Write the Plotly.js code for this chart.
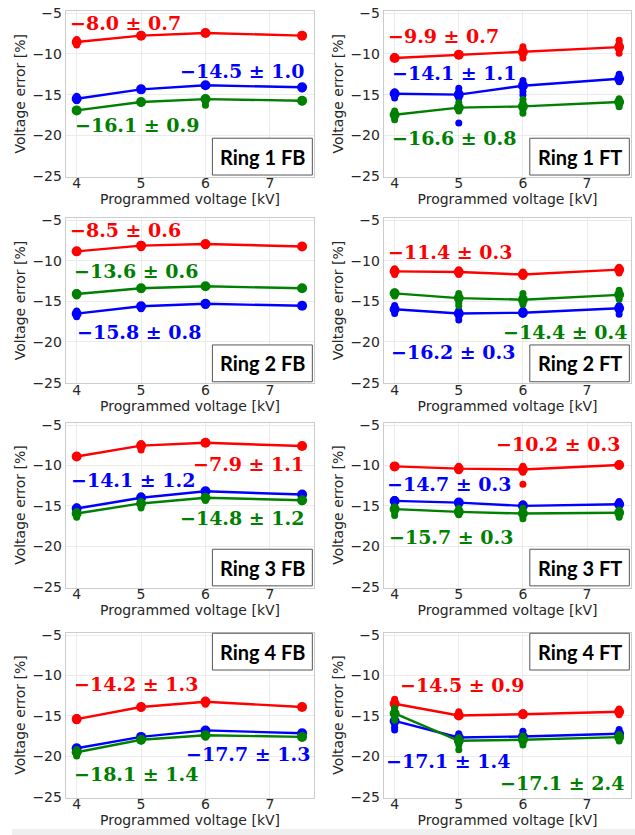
<!DOCTYPE html>
<html>
<head>
<meta charset="utf-8">
<script src="https://cdn.plot.ly/plotly-3.0.1.min.js"></script>
<style>html,body{margin:0;padding:0;background:#fff}#chart{width:635px;height:835px}</style>
</head>
<body>
<div id="chart"></div>
<script>
// ---------- DATA ----------
const X_LEVELS = [4, 5, 6, 7.5];
const PANEL_NAMES = ["Ring 1 FB", "Ring 1 FT", "Ring 2 FB", "Ring 2 FT", "Ring 3 FB", "Ring 3 FT", "Ring 4 FB", "Ring 4 FT"];
const SERIES_COLORS = ["#ff0000", "#0000ff", "#008000"]; // red, blue, green

// Ring 1 FB
const r1fb_red_mean = [-8.52, -7.74, -7.41, -7.74];
const r1fb_red_pts = [[-8.2, -8.5, -8.9], [-7.7, -7.85], [-7.4, -7.5], [-7.7, -7.8]];
const r1fb_blue_mean = [-15.5, -14.35, -13.85, -14.1];
const r1fb_blue_pts = [[-15.2, -15.5, -15.75], [-14.2, -14.4], [-13.8, -13.9], [-14.0, -14.3]];
const r1fb_green_mean = [-16.94, -15.9, -15.55, -15.75];
const r1fb_green_pts = [[-16.9, -17.05], [-15.85, -16.05], [-15.5, -15.9, -16.3], [-15.7, -15.9]];
const r1fb_labels = ["−8.0 ± 0.7", "−14.5 ± 1.0", "−16.1 ± 0.9"];

// Ring 1 FT
const r1ft_red_mean = [-10.49, -10.1, -9.75, -9.15];
const r1ft_red_pts = [[-10.35, -10.55], [-10.0, -10.2], [-9.1, -9.4, -9.75, -10.1, -10.5], [-8.3, -8.7, -9.15, -9.5, -9.9]];
const r1ft_blue_mean = [-14.9, -15.0, -13.9, -13.05];
const r1ft_blue_pts = [[-14.65, -14.95, -15.4], [-14.2, -14.6, -15.0, -15.45, -18.5], [-13.25, -13.6, -14.0, -14.6, -15.05], [-12.5, -12.9, -13.3, -13.4]];
const r1ft_green_mean = [-17.47, -16.6, -16.45, -15.9];
const r1ft_green_pts = [[-17.0, -17.4, -17.8, -18.1], [-16.0, -16.4, -16.8, -17.0], [-15.6, -16.0, -16.45, -16.9, -17.3], [-15.5, -15.9, -16.3, -16.5]];
const r1ft_labels = ["−9.9 ± 0.7", "−14.1 ± 1.1", "−16.6 ± 0.8"];

// Ring 2 FB
const r2fb_red_mean = [-8.85, -8.15, -7.95, -8.25];
const r2fb_red_pts = [[-8.75, -8.95], [-8.0, -8.3, -8.4], [-7.9, -8.15], [-8.2, -8.35]];
const r2fb_blue_mean = [-16.52, -15.6, -15.3, -15.55];
const r2fb_blue_pts = [[-16.2, -16.5, -16.9], [-15.5, -15.7, -15.9], [-15.3, -15.5], [-15.5, -15.6]];
const r2fb_green_mean = [-14.1, -13.4, -13.15, -13.4];
const r2fb_green_pts = [[-13.95, -14.15, -14.35], [-13.3, -13.55], [-13.1, -13.2], [-13.35, -13.45]];
const r2fb_labels = ["−8.5 ± 0.6", "−15.8 ± 0.8", "−13.6 ± 0.6"];

// Ring 2 FT
const r2ft_red_mean = [-11.31, -11.4, -11.7, -11.1];
const r2ft_red_pts = [[-10.98, -11.3, -11.7], [-11.1, -11.4, -11.7], [-11.4, -11.7, -11.95], [-10.8, -11.1, -11.5]];
const r2ft_blue_mean = [-15.98, -16.5, -16.4, -15.85];
const r2ft_blue_pts = [[-15.5, -15.8, -16.1, -16.5], [-16.1, -16.5, -16.9, -17.3], [-16.1, -16.4, -16.6], [-15.5, -15.8, -16.2, -16.6]];
const r2ft_green_mean = [-14.02, -14.6, -14.8, -14.2];
const r2ft_green_pts = [[-13.85, -14.1, -14.35], [-14.05, -14.4, -14.8, -15.2, -15.55], [-14.05, -14.4, -14.8, -15.1, -15.35], [-13.65, -14.0, -14.3, -14.75]];
const r2ft_labels = ["−11.4 ± 0.3", "−16.2 ± 0.3", "−14.4 ± 0.4"];

// Ring 3 FB
const r3fb_red_mean = [-8.89, -7.55, -7.2, -7.6];
const r3fb_red_pts = [[-8.8, -8.95], [-7.3, -7.6, -8.1], [-7.15, -7.3], [-7.6, -7.7]];
const r3fb_blue_mean = [-15.33, -14.0, -13.2, -13.6];
const r3fb_blue_pts = [[-15.1, -15.35], [-13.75, -14.0, -14.35], [-13.1, -13.3], [-13.5, -13.65]];
const r3fb_green_mean = [-15.94, -14.7, -14.0, -14.3];
const r3fb_green_pts = [[-15.7, -16.0, -16.4], [-14.45, -14.7, -15.25], [-13.9, -14.1, -14.35], [-14.25, -14.5]];
const r3fb_labels = ["−7.9 ± 1.1", "−14.1 ± 1.2", "−14.8 ± 1.2"];

// Ring 3 FT
const r3ft_red_mean = [-10.12, -10.4, -10.5, -9.95];
const r3ft_red_pts = [[-10.0, -10.25], [-10.1, -10.4, -10.65], [-10.1, -10.5, -10.85, -12.34], [-9.8, -10.1]];
const r3ft_blue_mean = [-14.39, -14.6, -15.0, -14.8];
const r3ft_blue_pts = [[-14.2, -14.45, -14.75], [-14.45, -14.65, -14.9], [-14.75, -15.0, -15.25], [-14.45, -14.75, -15.1]];
const r3ft_green_mean = [-15.4, -15.74, -15.95, -15.85];
const r3ft_green_pts = [[-15.1, -15.45, -15.8, -16.2], [-15.3, -15.6, -16.0, -16.1], [-15.3, -15.7, -16.1, -16.6], [-15.5, -15.85, -16.2, -16.4]];
const r3ft_labels = ["−10.2 ± 0.3", "−14.7 ± 0.3", "−15.7 ± 0.3"];

// Ring 4 FB
const r4fb_red_mean = [-15.4, -13.9, -13.25, -13.9];
const r4fb_red_pts = [[-15.2, -15.45, -15.6], [-13.85, -14.05], [-13.05, -13.3, -13.55], [-13.85, -14.0]];
const r4fb_blue_mean = [-19.0, -17.6, -16.8, -17.15];
const r4fb_blue_pts = [[-18.9, -19.1], [-17.5, -17.7], [-16.75, -16.9], [-17.1, -17.2]];
const r4fb_green_mean = [-19.5, -17.95, -17.4, -17.6];
const r4fb_green_pts = [[-19.15, -19.5, -19.95], [-17.9, -18.1], [-17.3, -17.5, -17.65], [-17.55, -17.7]];
const r4fb_labels = ["−14.2 ± 1.3", "−17.7 ± 1.3", "−18.1 ± 1.4"];

// Ring 4 FT
const r4ft_red_mean = [-13.5, -14.95, -14.8, -14.5];
const r4ft_red_pts = [[-12.95, -13.3, -13.6, -13.9], [-14.5, -14.75, -15.0], [-14.6, -14.8, -14.95], [-14.15, -14.4, -14.6, -14.85]];
const r4ft_blue_mean = [-15.63, -17.67, -17.55, -17.22];
const r4ft_blue_pts = [[-15.25, -15.6, -16.0, -16.4, -16.75], [-17.2, -17.6, -18.0, -18.4], [-16.9, -17.3, -17.6, -17.9], [-16.7, -17.0, -17.4]];
const r4ft_green_mean = [-14.7, -18.08, -17.96, -17.63];
const r4ft_green_pts = [[-14.05, -14.4, -14.8, -15.2, -15.55], [-17.7, -18.1, -18.6, -19.2], [-17.5, -17.9, -18.3, -18.6], [-17.3, -17.6, -17.9, -18.1]];
const r4ft_labels = ["−14.5 ± 0.9", "−17.1 ± 1.4", "−17.1 ± 2.4"];

const Y_TICKS = [-25, -20, -15, -10, -5];
const X_TICKS = [4, 5, 6, 7];
const X_TITLE = "Programmed voltage [kV]";
const Y_TITLE = "Voltage error [%]";

// ---------- PANEL ASSEMBLY ----------
const panels = [
  {means: [r1fb_red_mean, r1fb_blue_mean, r1fb_green_mean], pts: [r1fb_red_pts, r1fb_blue_pts, r1fb_green_pts], labels: r1fb_labels},
  {means: [r1ft_red_mean, r1ft_blue_mean, r1ft_green_mean], pts: [r1ft_red_pts, r1ft_blue_pts, r1ft_green_pts], labels: r1ft_labels},
  {means: [r2fb_red_mean, r2fb_blue_mean, r2fb_green_mean], pts: [r2fb_red_pts, r2fb_blue_pts, r2fb_green_pts], labels: r2fb_labels},
  {means: [r2ft_red_mean, r2ft_blue_mean, r2ft_green_mean], pts: [r2ft_red_pts, r2ft_blue_pts, r2ft_green_pts], labels: r2ft_labels},
  {means: [r3fb_red_mean, r3fb_blue_mean, r3fb_green_mean], pts: [r3fb_red_pts, r3fb_blue_pts, r3fb_green_pts], labels: r3fb_labels},
  {means: [r3ft_red_mean, r3ft_blue_mean, r3ft_green_mean], pts: [r3ft_red_pts, r3ft_blue_pts, r3ft_green_pts], labels: r3ft_labels},
  {means: [r4fb_red_mean, r4fb_blue_mean, r4fb_green_mean], pts: [r4fb_red_pts, r4fb_blue_pts, r4fb_green_pts], labels: r4fb_labels},
  {means: [r4ft_red_mean, r4ft_blue_mean, r4ft_green_mean], pts: [r4ft_red_pts, r4ft_blue_pts, r4ft_green_pts], labels: r4ft_labels}
];

// label placement per panel: [x, y, xanchor] for red, blue, green (data coords)
const labelPlacement = [
  [[3.87, -6.18, "left"], [7.56, -12.14, "right"], [3.94, -18.79, "left"]],
  [[3.87, -7.82, "left"], [3.92, -12.34, "left"], [3.92, -20.35, "left"]],
  [[3.87, -6.19, "left"], [3.97, -18.81, "left"], [3.92, -11.23, "left"]],
  [[3.87, -8.98, "left"], [3.91, -21.27, "left"], [7.65, -18.81, "right"]],
  [[7.56, -9.8, "right"], [3.88, -11.84, "left"], [7.56, -16.56, "right"]],
  [[7.54, -7.34, "right"], [3.845, -12.25, "left"], [3.88, -18.81, "left"]],
  [[3.92, -11.03, "left"], [7.65, -19.69, "right"], [3.92, -22.16, "left"]],
  [[4.05, -11.22, "left"], [3.83, -20.61, "left"], [7.6, -23.27, "right"]]
];

const colDomains = [[0.1035, 0.4950], [0.6043, 0.9942]];
const rowDomains = [[0.7884, 0.9869], [0.5408, 0.7394], [0.2964, 0.4939], [0.0449, 0.2424]];

const traces = [];
const layout = {
  width: 635, height: 835,
  margin: {l: 0, r: 0, t: 0, b: 0},
  paper_bgcolor: "#ffffff", plot_bgcolor: "#ffffff",
  showlegend: false,
  font: {family: "DejaVu Sans", size: 14, color: "#262626"},
  annotations: [], shapes: []
};

panels.forEach((p, i) => {
  const row = Math.floor(i / 2), col = i % 2;
  const n = i + 1;
  const xa = "x" + (n === 1 ? "" : n), ya = "y" + (n === 1 ? "" : n);
  const xk = "xaxis" + (n === 1 ? "" : n), yk = "yaxis" + (n === 1 ? "" : n);
  layout[xk] = {
    domain: colDomains[col], anchor: ya, range: [3.83, 7.69],
    tickvals: X_TICKS, ticks: "", ticklen: 0, ticklabelstandoff: -6,
    showgrid: true, gridcolor: "#ebebeb", gridwidth: 1,
    zeroline: false, showline: true, mirror: true, linecolor: "#cccccc", linewidth: 1,
    tickfont: {family: "DejaVu Sans", size: 14, color: "#262626"},
    title: {text: X_TITLE, font: {family: "DejaVu Sans", size: 14, color: "#262626"}, standoff: 0},
    automargin: false
  };
  layout[yk] = {
    domain: rowDomains[row], anchor: xa, range: [-25.1, -4.7],
    tickvals: Y_TICKS, ticks: "", ticklen: 0,
    showgrid: true, gridcolor: "#ebebeb", gridwidth: 1,
    zeroline: false, showline: true, mirror: true, linecolor: "#cccccc", linewidth: 1,
    tickfont: {family: "DejaVu Sans", size: 14, color: "#262626"},
    title: {text: Y_TITLE, font: {family: "DejaVu Sans", size: 14, color: "#262626"}, standoff: 3},
    automargin: false
  };
  // series: red, blue, green
  for (let s = 0; s < 3; s++) {
    const px = [], py = [];
    p.pts[s].forEach((arr, k) => arr.forEach(v => { px.push(X_LEVELS[k]); py.push(v); }));
    traces.push({x: px, y: py, xaxis: xa, yaxis: ya, type: "scatter", mode: "markers",
      marker: {color: SERIES_COLORS[s], size: 7, line: {width: 0}}, hoverinfo: "skip"});
    traces.push({x: X_LEVELS, y: p.means[s], xaxis: xa, yaxis: ya, type: "scatter", mode: "lines+markers",
      line: {color: SERIES_COLORS[s], width: 2.4}, marker: {color: SERIES_COLORS[s], size: 10}});
    const lp = labelPlacement[i][s];
    layout.annotations.push({
      xref: xa, yref: ya, x: lp[0], y: lp[1], xanchor: lp[2], yanchor: "middle",
      text: "<b>" + p.labels[s] + "</b>", showarrow: false,
      font: {family: "DejaVu Serif", size: 19, color: SERIES_COLORS[s]}
    });
  }
  // name box
  const top = row === 3;
  const bx0 = 0.59, bx1 = 0.992;
  const by0 = top ? 0.773 : 0.01, by1 = top ? 0.996 : 0.232;
  layout.shapes.push({type: "rect", xref: xa + " domain", yref: ya + " domain",
    x0: bx0, x1: bx1, y0: by0, y1: by1, fillcolor: "#ffffff", line: {color: "#555555", width: 1}, layer: "above"});
  layout.annotations.push({xref: xa + " domain", yref: ya + " domain", x: (bx0 + bx1) / 2, y: (by0 + by1) / 2,
    xanchor: "center", yanchor: "middle", showarrow: false,
    text: "<b>" + PANEL_NAMES[i] + "</b>", font: {family: "Lato", size: 20, color: "#000000"}});
});

// light grey strip at the bottom of the picture
layout.shapes.push({type: "rect", xref: "paper", yref: "paper", x0: 12 / 635, x1: 1, y0: 0, y1: 6 / 835,
  fillcolor: "#efefef", line: {width: 0}, layer: "below"});

Plotly.newPlot("chart", traces, layout, {staticPlot: true, displayModeBar: false});
</script>
</body>
</html>
